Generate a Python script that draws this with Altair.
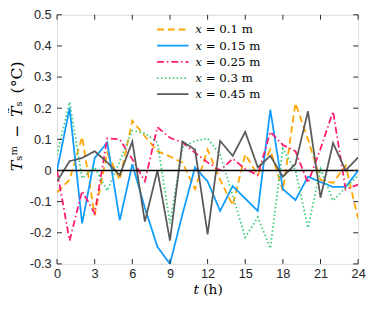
import altair as alt
import pandas as pd

hours = list(range(25))
labels = ["𝑥 = 0.1 m", "𝑥 = 0.15 m", "𝑥 = 0.25 m", "𝑥 = 0.3 m", "𝑥 = 0.45 m"]

x010 = [-0.07, -0.03, 0.108, -0.143, 0.057, -0.03, 0.16, 0.11, 0.062, 0.045, 0.025, -0.06, 0.067,
        -0.03, -0.112, 0.052, -0.015, 0.067, -0.065, 0.216, 0.10, -0.03, -0.04, 0.016, -0.155]
x015 = [0.0, 0.20, -0.17, 0.04, 0.09, -0.16, 0.02, -0.12, -0.245, -0.30, -0.14, 0.01, -0.035,
        -0.13, -0.05, -0.09, -0.13, 0.195, -0.06, -0.095, -0.02, -0.037, -0.053, -0.053, 0.0]
x025 = [0.0, -0.225, -0.066, -0.138, 0.103, 0.10, 0.036, -0.035, 0.139, 0.105, 0.09, 0.057, 0.026,
        0.0, 0.038, 0.005, -0.015, 0.124, 0.082, 0.062, -0.04, 0.07, 0.19, -0.061, -0.045]
x030 = [0.05, 0.22, -0.025, 0.01, -0.065, 0.03, 0.128, 0.12, 0.09, -0.17, 0.075, 0.095, 0.103,
        0.05, -0.08, -0.215, -0.15, -0.25, 0.07, 0.0, -0.184, 0.005, -0.097, -0.055, -0.015]
x045 = [-0.035, 0.03, 0.04, 0.062, 0.026, -0.015, 0.093, -0.164, 0.0, -0.225, 0.093, 0.067, -0.205,
        0.095, 0.047, 0.124, 0.01, 0.047, -0.02, 0.021, 0.19, -0.087, 0.088, 0.0, 0.042]

series = [x010, x015, x025, x030, x045]
colors = ["#ffa500", "#0f9bff", "#ff1a70", "#33cc77", "#5a5a5a"]
dashes = [[7, 4], [1, 0], [7, 3, 1.5, 3], [1.5, 2.5], [1, 0]]

x_ticks = [0, 3, 6, 9, 12, 15, 18, 21, 24]
y_ticks = [-0.3, -0.2, -0.1, 0, 0.1, 0.2, 0.3, 0.4, 0.5]

rows = []
for lab, vals in zip(labels, series):
    for t, v in zip(hours, vals):
        rows.append({"t": t, "v": v, "s": lab})
df = pd.DataFrame(rows)

W, H = 307, 254
TL = 5  # inward tick length

xscale = alt.Scale(domain=[0, 24], nice=False)
yscale = alt.Scale(domain=[-0.3, 0.5], nice=False)

lab_style = dict(labelFont="Liberation Sans", labelFontSize=13, labelColor="#262626",
                 labelOverlap=False, labelFlush=False, ticks=False, domain=False, grid=False)

x_axis = alt.Axis(values=x_ticks, title="𝑡 (h)", titleFont="DejaVu Serif",
                  titleFontSize=14, titleFontWeight="normal", titleColor="#000000",
                  titlePadding=2, labelPadding=4, **lab_style)
y_axis = alt.Axis(values=y_ticks, labelExpr="'' + datum.value",
                  title="𝑇ₛᵐ\u2002−\u2002𝑇̃ₛ\u2002(°C)", titleFont="DejaVu Serif",
                  titleFontSize=16, titleFontWeight="normal", titleColor="#000000",
                  titleAlign="center", titleX=-33, titleY=103, labelPadding=6, **lab_style)

leg = alt.Legend(
    title=None, orient="none", legendX=109, legendY=6, padding=0,
    symbolType="M-2,0L2,0", symbolSize=256, symbolStrokeWidth=1.8,
    symbolFillColor="transparent",
    labelFont="DejaVu Serif", labelFontSize=12, labelColor="#000000",
    rowPadding=1.5, labelOffset=14,
)

X = lambda: alt.X("t:Q", scale=xscale, axis=x_axis)
Y = lambda: alt.Y("v:Q", scale=yscale, axis=y_axis)

lines = alt.Chart(df).mark_line(strokeWidth=1.8, clip=True).encode(
    x=X(), y=Y(),
    color=alt.Color("s:N", scale=alt.Scale(domain=labels, range=colors), legend=leg),
    strokeDash=alt.StrokeDash("s:N", scale=alt.Scale(domain=labels, range=dashes), legend=leg),
)

zero = alt.Chart(pd.DataFrame({"v": [0]})).mark_rule(color="black", strokeWidth=1.5).encode(y=Y())

xt = pd.DataFrame({"t": x_ticks})
yt = pd.DataFrame({"v": y_ticks})
rule_style = dict(color="#262626", strokeWidth=1)
xb = alt.Chart(xt).mark_rule(**rule_style).encode(x=X(), y=alt.value(H), y2=alt.value(H - TL))
xtop = alt.Chart(xt).mark_rule(**rule_style).encode(x=X(), y=alt.value(0), y2=alt.value(TL))
yl = alt.Chart(yt).mark_rule(**rule_style).encode(y=Y(), x=alt.value(0), x2=alt.value(TL))
yr = alt.Chart(yt).mark_rule(**rule_style).encode(y=Y(), x=alt.value(W), x2=alt.value(W - TL))

chart = alt.layer(lines, zero, xb, xtop, yl, yr).properties(
    width=W, height=H,
    autosize=alt.AutoSizeParams(type="none"),
    padding={"left": 50, "top": 4, "right": 8, "bottom": 40},
).configure_view(
    stroke="#000000", strokeWidth=1.2
).configure(background="white")

chart.save("out.html", embed_options={"renderer": "svg", "actions": False})
